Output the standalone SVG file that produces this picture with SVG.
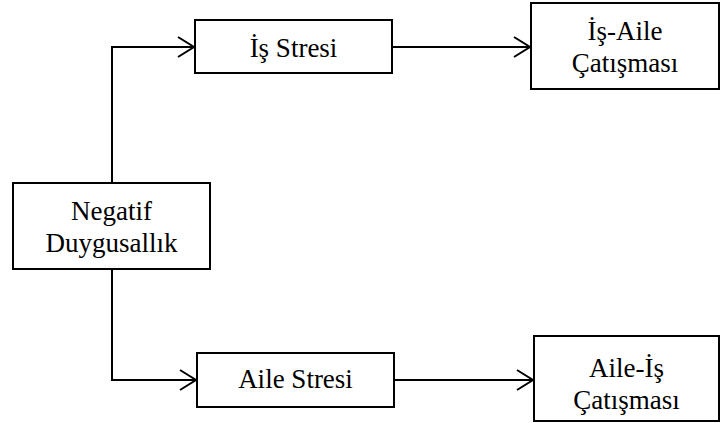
<svg xmlns="http://www.w3.org/2000/svg" width="720" height="423" viewBox="0 0 720 423">
  <defs>
    <marker id="open-arrow" markerWidth="20" markerHeight="24" refX="17" refY="11" orient="auto" markerUnits="userSpaceOnUse">
      <path d="M1,1 L17,11 L1,21" fill="none" stroke="#000" stroke-width="2"/>
    </marker>
    <style>
      .box { fill: #fff; stroke: #000; stroke-width: 2; }
      .lbl { font-family: 'Liberation Serif', 'Tinos', 'Times New Roman', serif; font-size: 27px; fill: #000; text-anchor: middle; }
      .link { fill: none; stroke: #000; stroke-width: 2; marker-end: url(#open-arrow); }
    </style>
  </defs>
  <rect width="720" height="423" fill="#fff"/>

  <g id="connectors">
    <path class="link" d="M112,183 V47 H194"/>
    <path class="link" d="M112,269 V380 H196"/>
    <path class="link" d="M392,47 H530"/>
    <path class="link" d="M394,380 H533"/>
  </g>

  <g id="negatif-duygusallik">
    <rect class="box" x="13" y="183" width="197" height="86"/>
    <text class="lbl" x="111.5" y="220">Negatif</text>
    <text class="lbl" x="111.5" y="252">Duygusallık</text>
  </g>

  <g id="is-stresi">
    <rect class="box" x="195" y="20" width="197" height="53"/>
    <text class="lbl" x="293.5" y="57">İş Stresi</text>
  </g>

  <g id="aile-stresi">
    <rect class="box" x="197" y="353" width="197" height="54"/>
    <text class="lbl" x="295.5" y="388">Aile Stresi</text>
  </g>

  <g id="is-aile-catismasi">
    <rect class="box" x="531" y="3" width="188" height="86"/>
    <text class="lbl" x="625" y="40">İş-Aile</text>
    <text class="lbl" x="625" y="72">Çatışması</text>
  </g>

  <g id="aile-is-catismasi">
    <rect class="box" x="534" y="336" width="185" height="85"/>
    <text class="lbl" x="626.5" y="377">Aile-İş</text>
    <text class="lbl" x="626.5" y="409">Çatışması</text>
  </g>
</svg>
